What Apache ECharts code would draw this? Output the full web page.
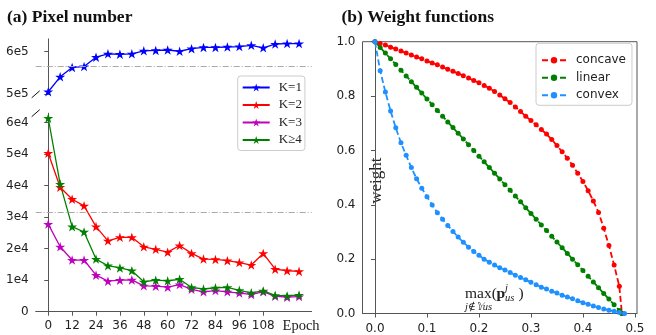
<!DOCTYPE html>
<html>
<head>
<meta charset="utf-8">
<script src="https://cdn.jsdelivr.net/npm/echarts@6/dist/echarts.min.js"></script>
<style>
html, body { margin: 0; padding: 0; background: #fff; }
#main { width: 656px; height: 335px; }
</style>
</head>
<body>
<div id="main"></div>
<script>
// (a) pixel number per epoch
const epochs = [0, 6, 12, 18, 24, 30, 36, 42, 48, 54, 60, 66, 72, 78, 84, 90, 96, 102, 108, 114, 120, 126];
const k1 = [506000, 541000, 563000, 565000, 587000, 595000, 594000, 595000, 602000, 603000, 604000,
            601000, 607000, 610000, 610000, 611000, 612000, 615000, 609000, 618000, 619000, 619000];
const k2 = [50300, 39500, 35700, 33600, 27000, 22500, 23600, 23600, 20600, 19800, 18900,
            21000, 18500, 16700, 16600, 16200, 15600, 14800, 18500, 13500, 13000, 12800];
const k3 = [27800, 20600, 16400, 16400, 11600, 9700, 10000, 10100, 8200, 8100, 7800,
            8600, 7100, 6300, 6700, 6300, 5900, 5500, 6300, 4900, 4600, 4800];
const k4 = [61400, 40500, 27000, 25300, 16700, 14600, 13900, 13000, 9500, 10000, 9800,
            10300, 7700, 7200, 7600, 7700, 6800, 6000, 6600, 5200, 5000, 5300];
const refTop = 566000;
const refBottom = 31500;
const epochTicks = [0, 12, 24, 36, 48, 60, 72, 84, 96, 108];

// (b) weight functions
const wx = [0, 0.01, 0.02, 0.03, 0.04, 0.05, 0.06, 0.07, 0.08, 0.09,
            0.10, 0.11, 0.12, 0.13, 0.14, 0.15, 0.16, 0.17, 0.18, 0.19,
            0.20, 0.21, 0.22, 0.23, 0.24, 0.25, 0.26, 0.27, 0.28, 0.29,
            0.30, 0.31, 0.32, 0.33, 0.34, 0.35, 0.36, 0.37, 0.38, 0.39,
            0.40, 0.41, 0.42, 0.43, 0.44, 0.45, 0.46, 0.47, 0.475];
const convexX = wx.slice(0, 48).concat([0.48]);
const concave = [1.000, 0.993, 0.988, 0.980, 0.973, 0.966, 0.958, 0.951, 0.944, 0.937,
                 0.929, 0.922, 0.915, 0.907, 0.899, 0.891, 0.883, 0.875, 0.866, 0.857,
                 0.849, 0.839, 0.829, 0.817, 0.804, 0.790, 0.776, 0.760, 0.743, 0.726,
                 0.710, 0.694, 0.677, 0.660, 0.640, 0.618, 0.595, 0.571, 0.545, 0.516,
                 0.486, 0.452, 0.414, 0.372, 0.314, 0.250, 0.178, 0.100, 0.000];
const linear = [1.000, 0.979, 0.958, 0.937, 0.916, 0.895, 0.874, 0.853, 0.832, 0.811,
                0.789, 0.768, 0.747, 0.726, 0.705, 0.684, 0.663, 0.642, 0.621, 0.600,
                0.579, 0.558, 0.537, 0.516, 0.495, 0.474, 0.453, 0.432, 0.411, 0.389,
                0.368, 0.347, 0.326, 0.305, 0.284, 0.263, 0.242, 0.221, 0.200, 0.179,
                0.158, 0.137, 0.116, 0.095, 0.074, 0.053, 0.032, 0.011, 0.000];
const convex = [1.000, 0.893, 0.815, 0.745, 0.683, 0.628, 0.582, 0.537, 0.496, 0.461,
                0.430, 0.399, 0.371, 0.347, 0.324, 0.302, 0.281, 0.262, 0.244, 0.228,
                0.214, 0.200, 0.189, 0.178, 0.168, 0.160, 0.151, 0.141, 0.132, 0.124,
                0.115, 0.106, 0.097, 0.090, 0.082, 0.075, 0.067, 0.061, 0.054, 0.047,
                0.040, 0.034, 0.028, 0.022, 0.017, 0.012, 0.008, 0.004, 0.000];
const wTicksX = [0, 0.1, 0.2, 0.3, 0.4, 0.5];
const wTicksY = [0, 0.2, 0.4, 0.6, 0.8, 1.0];

const SERIF = '"Liberation Serif", "DejaVu Serif", serif';
const SANS = '"DejaVu Sans", sans-serif';
const AX = '#555';
const star = 'path://M0,-10L2.245,-3.09L9.51,-3.09L3.633,1.18L5.878,8.09L0,3.82L-5.878,8.09L-3.633,1.18L-9.51,-3.09L-2.245,-3.09Z';

const chart = echarts.init(document.getElementById('main'));

function kLine(name, vals, color, idx) {
  return {
    name: name, type: 'line', xAxisIndex: idx, yAxisIndex: idx,
    data: epochs.map((e, i) => [e, vals[i]]),
    symbol: star, symbolSize: 10, symbolKeepAspect: true,
    lineStyle: { color: color, width: 1.3 },
    itemStyle: { color: color },
    z: 3
  };
}
function wLine(name, xs, vals, color) {
  return {
    name: name, type: 'line', xAxisIndex: 2, yAxisIndex: 2,
    data: xs.map((x, i) => [x, vals[i]]),
    symbol: 'circle', symbolSize: 5,
    lineStyle: { color: color, width: 1.8, type: [6, 3] },
    itemStyle: { color: color }
  };
}
const refLine = (v) => ({
  silent: true, symbol: 'none', label: { show: false },
  lineStyle: { color: '#aaa', width: 1, type: [6, 2, 1, 2] },
  data: [{ yAxis: v }]
});

const tickLabel = { color: '#222', fontFamily: SANS, fontSize: 12 };

const option = {
  animation: false,
  backgroundColor: '#fff',
  title: [
    { text: '(a) Pixel number', left: 7, top: 8.5, padding: 0,
      textStyle: { fontFamily: SERIF, fontWeight: 'bold', fontSize: 17.5, color: '#111' } },
    { text: '(b) Weight functions', left: 341.5, top: 8.5, padding: 0,
      textStyle: { fontFamily: SERIF, fontWeight: 'bold', fontSize: 17.5, color: '#111' } }
  ],
  grid: [
    { left: 35.7, top: 38.9, width: 275.9, height: 55.4 },
    { left: 35.7, top: 113.2, width: 275.9, height: 198.5 },
    { left: 362.5, top: 41.7, width: 274.5, height: 272.6, show: true, borderColor: AX, borderWidth: 1 }
  ],
  xAxis: [
    { type: 'value', gridIndex: 0, min: -6.3, max: 132.3, show: false },
    { type: 'value', gridIndex: 1, min: -6.3, max: 132.3,
      axisLine: { lineStyle: { color: AX } },
      axisTick: { customValues: epochTicks, length: 4, lineStyle: { color: AX } },
      axisLabel: Object.assign({ customValues: epochTicks, margin: 8 }, tickLabel),
      splitLine: { show: false },
      name: 'Epoch', nameLocation: 'end', nameGap: -10.5, nameMoveOverlap: false,
      nameTextStyle: { fontFamily: SERIF, fontSize: 14.5, color: '#222', align: 'center', verticalAlign: 'top', padding: [7, 0, 0, 0] } },
    { type: 'value', gridIndex: 2, min: -0.024, max: 0.504,
      axisLine: { lineStyle: { color: AX } },
      axisTick: { customValues: wTicksX, length: 4, lineStyle: { color: AX } },
      axisLabel: Object.assign({ customValues: wTicksX, margin: 9.5, formatter: (v) => v.toFixed(1) }, tickLabel),
      splitLine: { show: false } }
  ],
  yAxis: [
    { type: 'value', gridIndex: 0, min: 500000, max: 630000,
      axisLine: { show: true, lineStyle: { color: AX } },
      axisTick: { show: true, customValues: [500000, 600000], length: 4, lineStyle: { color: AX } },
      axisLabel: Object.assign({ customValues: [500000, 600000], margin: 7, formatter: (v) => (v / 1e5) + 'e5' }, tickLabel),
      splitLine: { show: false } },
    { type: 'value', gridIndex: 1, min: 0, max: 63000,
      axisLine: { show: true, lineStyle: { color: AX } },
      axisTick: { show: true, customValues: [0, 10000, 20000, 30000, 40000, 50000, 60000], length: 4, lineStyle: { color: AX } },
      axisLabel: Object.assign({ customValues: [0, 10000, 20000, 30000, 40000, 50000, 60000], margin: 7,
        formatter: (v) => v === 0 ? '0' : (v / 1e4) + 'e4' }, tickLabel),
      splitLine: { show: false } },
    { type: 'value', gridIndex: 2, min: 0, max: 1,
      axisLine: { show: true, lineStyle: { color: AX } },
      axisTick: { show: true, customValues: wTicksY, length: 4, lineStyle: { color: AX } },
      axisLabel: Object.assign({ customValues: wTicksY, margin: 7, formatter: (v) => v.toFixed(1) }, tickLabel),
      splitLine: { show: false },
      name: 'weight', nameLocation: 'middle', nameGap: -14, nameMoveOverlap: false,
      nameTextStyle: { fontFamily: SERIF, fontSize: 17, color: '#222', verticalAlign: 'middle', padding: [0, 6, 0, 0] } }
  ],
  legend: [
    { data: ['K=1', 'K=2', 'K=3', 'K≥4'], orient: 'vertical', left: 237.7, top: 76,
      itemWidth: 27, itemHeight: 10, itemGap: 4.5, padding: [5, 3, 4, 4],
      backgroundColor: 'rgba(255,255,255,0.85)', borderColor: '#ccc', borderWidth: 1, borderRadius: 3,
      textStyle: { fontFamily: SERIF, fontSize: 13, color: '#222', padding: [0, 0, 0, 4] } },
    { data: ['concave', 'linear', 'convex'], orient: 'vertical', left: 536, top: 43.3,
      itemWidth: 24, itemHeight: 8, itemGap: 5.5, padding: [11, 6, 4, 5],
      backgroundColor: 'rgba(255,255,255,0.85)', borderColor: '#ccc', borderWidth: 1, borderRadius: 3,
      textStyle: { fontFamily: SANS, fontSize: 12, color: '#222', padding: [0, 0, 0, 5] } }
  ],
  series: [
    Object.assign(kLine('K=1', k1, '#0000ff', 0), { markLine: refLine(refTop) }),
    Object.assign(kLine('K=2', k2, '#ff0000', 1), { markLine: refLine(refBottom) }),
    kLine('K=3', k3, '#bf00bf', 1),
    kLine('K≥4', k4, '#008000', 1),
    wLine('concave', wx, concave, '#ff0000'),
    wLine('linear', wx, linear, '#008000'),
    wLine('convex', convexX, convex, '#1e90ff')
  ],
  graphic: [
    { id: 'mx', type: 'text', x: 465, y: 293.5, style: { text: 'max(', font: '15.5px ' + SERIF, fill: '#222', verticalAlign: 'middle' } },
    { id: 'mp', type: 'text', x: 496.5, y: 293.5, style: { text: 'p', font: 'bold 15.5px ' + SERIF, fill: '#222', verticalAlign: 'middle' } },
    { id: 'mj', type: 'text', x: 505, y: 288, style: { text: 'j', font: 'italic 10.5px ' + SERIF, fill: '#222', verticalAlign: 'middle' } },
    { id: 'mu', type: 'text', x: 505, y: 298, style: { text: 'us', font: 'italic 10.5px ' + SERIF, fill: '#222', verticalAlign: 'middle' } },
    { id: 'mc', type: 'text', x: 518.5, y: 293.5, style: { text: ')', font: '15.5px ' + SERIF, fill: '#222', verticalAlign: 'middle' } },
    { id: 'ms', type: 'text', x: 465, y: 307.5, style: { text: 'j∉𝕐us', font: 'italic 10.5px ' + SERIF, fill: '#222', verticalAlign: 'middle' } }
  ]
};

chart.setOption(option);

// axis break marks on the left spine
const pTop = chart.convertToPixel({ gridIndex: 0 }, [-6.3, 500000]);
const pBot = chart.convertToPixel({ gridIndex: 1 }, [-6.3, 63000]);
const brk = (id, p) => ({
  id: id, type: 'line', z: 10,
  shape: { x1: p[0] - 4, y1: p[1] + 3.5, x2: p[0] + 4, y2: p[1] - 3.5 },
  style: { stroke: '#111', lineWidth: 1 }
});
chart.setOption({ graphic: option.graphic.concat([brk('b1', pTop), brk('b2', pBot)]) });
</script>
</body>
</html>
